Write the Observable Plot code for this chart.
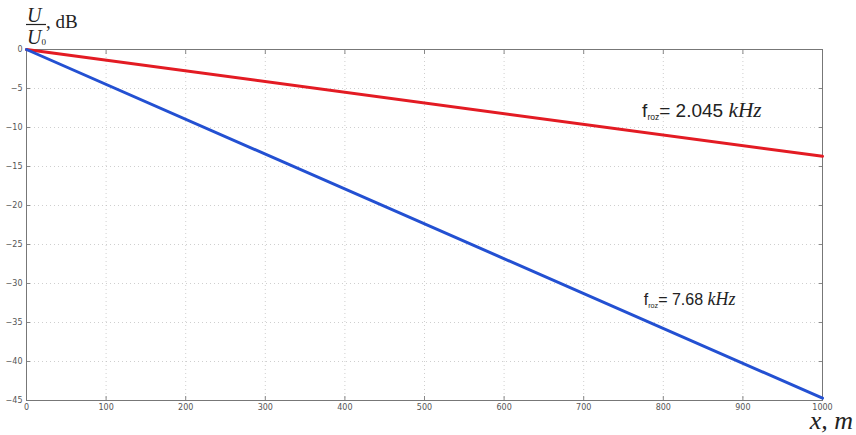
<!DOCTYPE html>
<html><head><meta charset="utf-8">
<script src="https://cdn.jsdelivr.net/npm/d3@7"></script>
<script src="https://cdn.jsdelivr.net/npm/@observablehq/plot@0.6"></script>
<style>body{margin:0;background:#fff}#c{position:relative;width:856px;height:435px}</style>
</head><body><div id="c"></div>
<script>
const distance = [0, 1000];
const redSeries = [0, -13.7];
const blueSeries = [0, -44.7];
const xTicks = [0,100,200,300,400,500,600,700,800,900,1000];
const yTicks = [0,-5,-10,-15,-20,-25,-30,-35,-40,-45];
const labelRed = {x: 774, y: -8.7, size: 19, name: "f", sub: "roz", rest: "= 2.045 ", unit: "kHz"};
const labelBlue = {x: 776, y: -32.8, size: 16, name: "f", sub: "roz", rest: "= 7.68 ", unit: "kHz"};
const xTitle = "x, m";
const yTitleNum = "U", yTitleDen = "U", yTitleSub = "0", yTitleUnit = ", dB";

const red = distance.map((x,i)=>({x, y: redSeries[i]}));
const blue = distance.map((x,i)=>({x, y: blueSeries[i]}));

const plot = Plot.plot({
  width: 856, height: 435,
  marginLeft: 26, marginRight: 34, marginTop: 49, marginBottom: 35,
  style: {fontFamily: "DejaVu Sans, sans-serif", fontSize: "8px", color: "#444"},
  x: {domain: [0, 1000]},
  y: {domain: [-45, 0]},
  marks: [
    Plot.gridX(xTicks, {stroke: "#bbb", strokeOpacity: 0.7, strokeDasharray: "1,3"}),
    Plot.gridY(yTicks, {stroke: "#bbb", strokeOpacity: 0.7, strokeDasharray: "1,3"}),
    Plot.axisX(xTicks, {anchor: "bottom", tickSize: -4, tickPadding: 8, tickFormat: d => String(d), label: null, stroke: "#888", fill: "#555"}),
    Plot.axisX(xTicks, {anchor: "top", tickSize: -4, tickFormat: () => "", label: null, stroke: "#888"}),
    Plot.axisY(yTicks, {anchor: "left", tickSize: -4, tickPadding: 8, label: null, stroke: "#888", fill: "#555"}),
    Plot.axisY(yTicks, {anchor: "right", tickSize: -4, tickFormat: () => "", label: null, stroke: "#888"}),
    Plot.frame({stroke: "#777", strokeWidth: 1}),
    Plot.line(red, {x: "x", y: "y", stroke: "#e31b23", strokeWidth: 3}),
    Plot.line(blue, {x: "x", y: "y", stroke: "#2350d2", strokeWidth: 3})
  ]
});
document.getElementById("c").appendChild(plot);

const sx = plot.scale("x"), sy = plot.scale("y");
const svg = d3.select(plot);
function addLabel(l) {
  const t = svg.append("text")
    .attr("x", sx.apply(l.x)).attr("y", sy.apply(l.y)).attr("text-anchor", "start")
    .attr("font-family", "Liberation Sans, sans-serif").attr("font-size", l.size).attr("fill", "#222");
  t.append("tspan").text(l.name);
  t.append("tspan").attr("font-size", l.size * 0.45).attr("dy", 3).text(l.sub);
  t.append("tspan").attr("dy", -3).text(l.rest);
  t.append("tspan").attr("font-family", "Liberation Serif, serif").attr("font-style", "italic").attr("font-size", l.size * 1.12).text(l.unit);
}
addLabel(labelRed);
addLabel(labelBlue);

svg.append("text").attr("x", 853).attr("y", 429).attr("text-anchor", "end")
  .attr("font-family", "Liberation Serif, serif").attr("font-style", "italic")
  .attr("font-size", 26).attr("fill", "#222").text(xTitle);

const g = svg.append("g").attr("font-family", "Liberation Serif, serif").attr("font-style", "italic").attr("fill", "#222").attr("text-anchor", "start");
g.append("text").attr("x", 27).attr("y", 22).attr("font-size", 20).text(yTitleNum);
g.append("line").attr("x1", 26).attr("x2", 46).attr("y1", 24.5).attr("y2", 24.5).attr("stroke", "#222").attr("stroke-width", 1.2);
const den = g.append("text").attr("x", 27).attr("y", 44).attr("font-size", 20);
den.append("tspan").text(yTitleDen);
den.append("tspan").attr("font-size", 9).attr("font-style", "normal").attr("dy", 1).text(yTitleSub);
g.append("text").attr("x", 46).attr("y", 28).attr("font-size", 19).attr("font-style", "normal").text(yTitleUnit);
</script>
</body></html>
